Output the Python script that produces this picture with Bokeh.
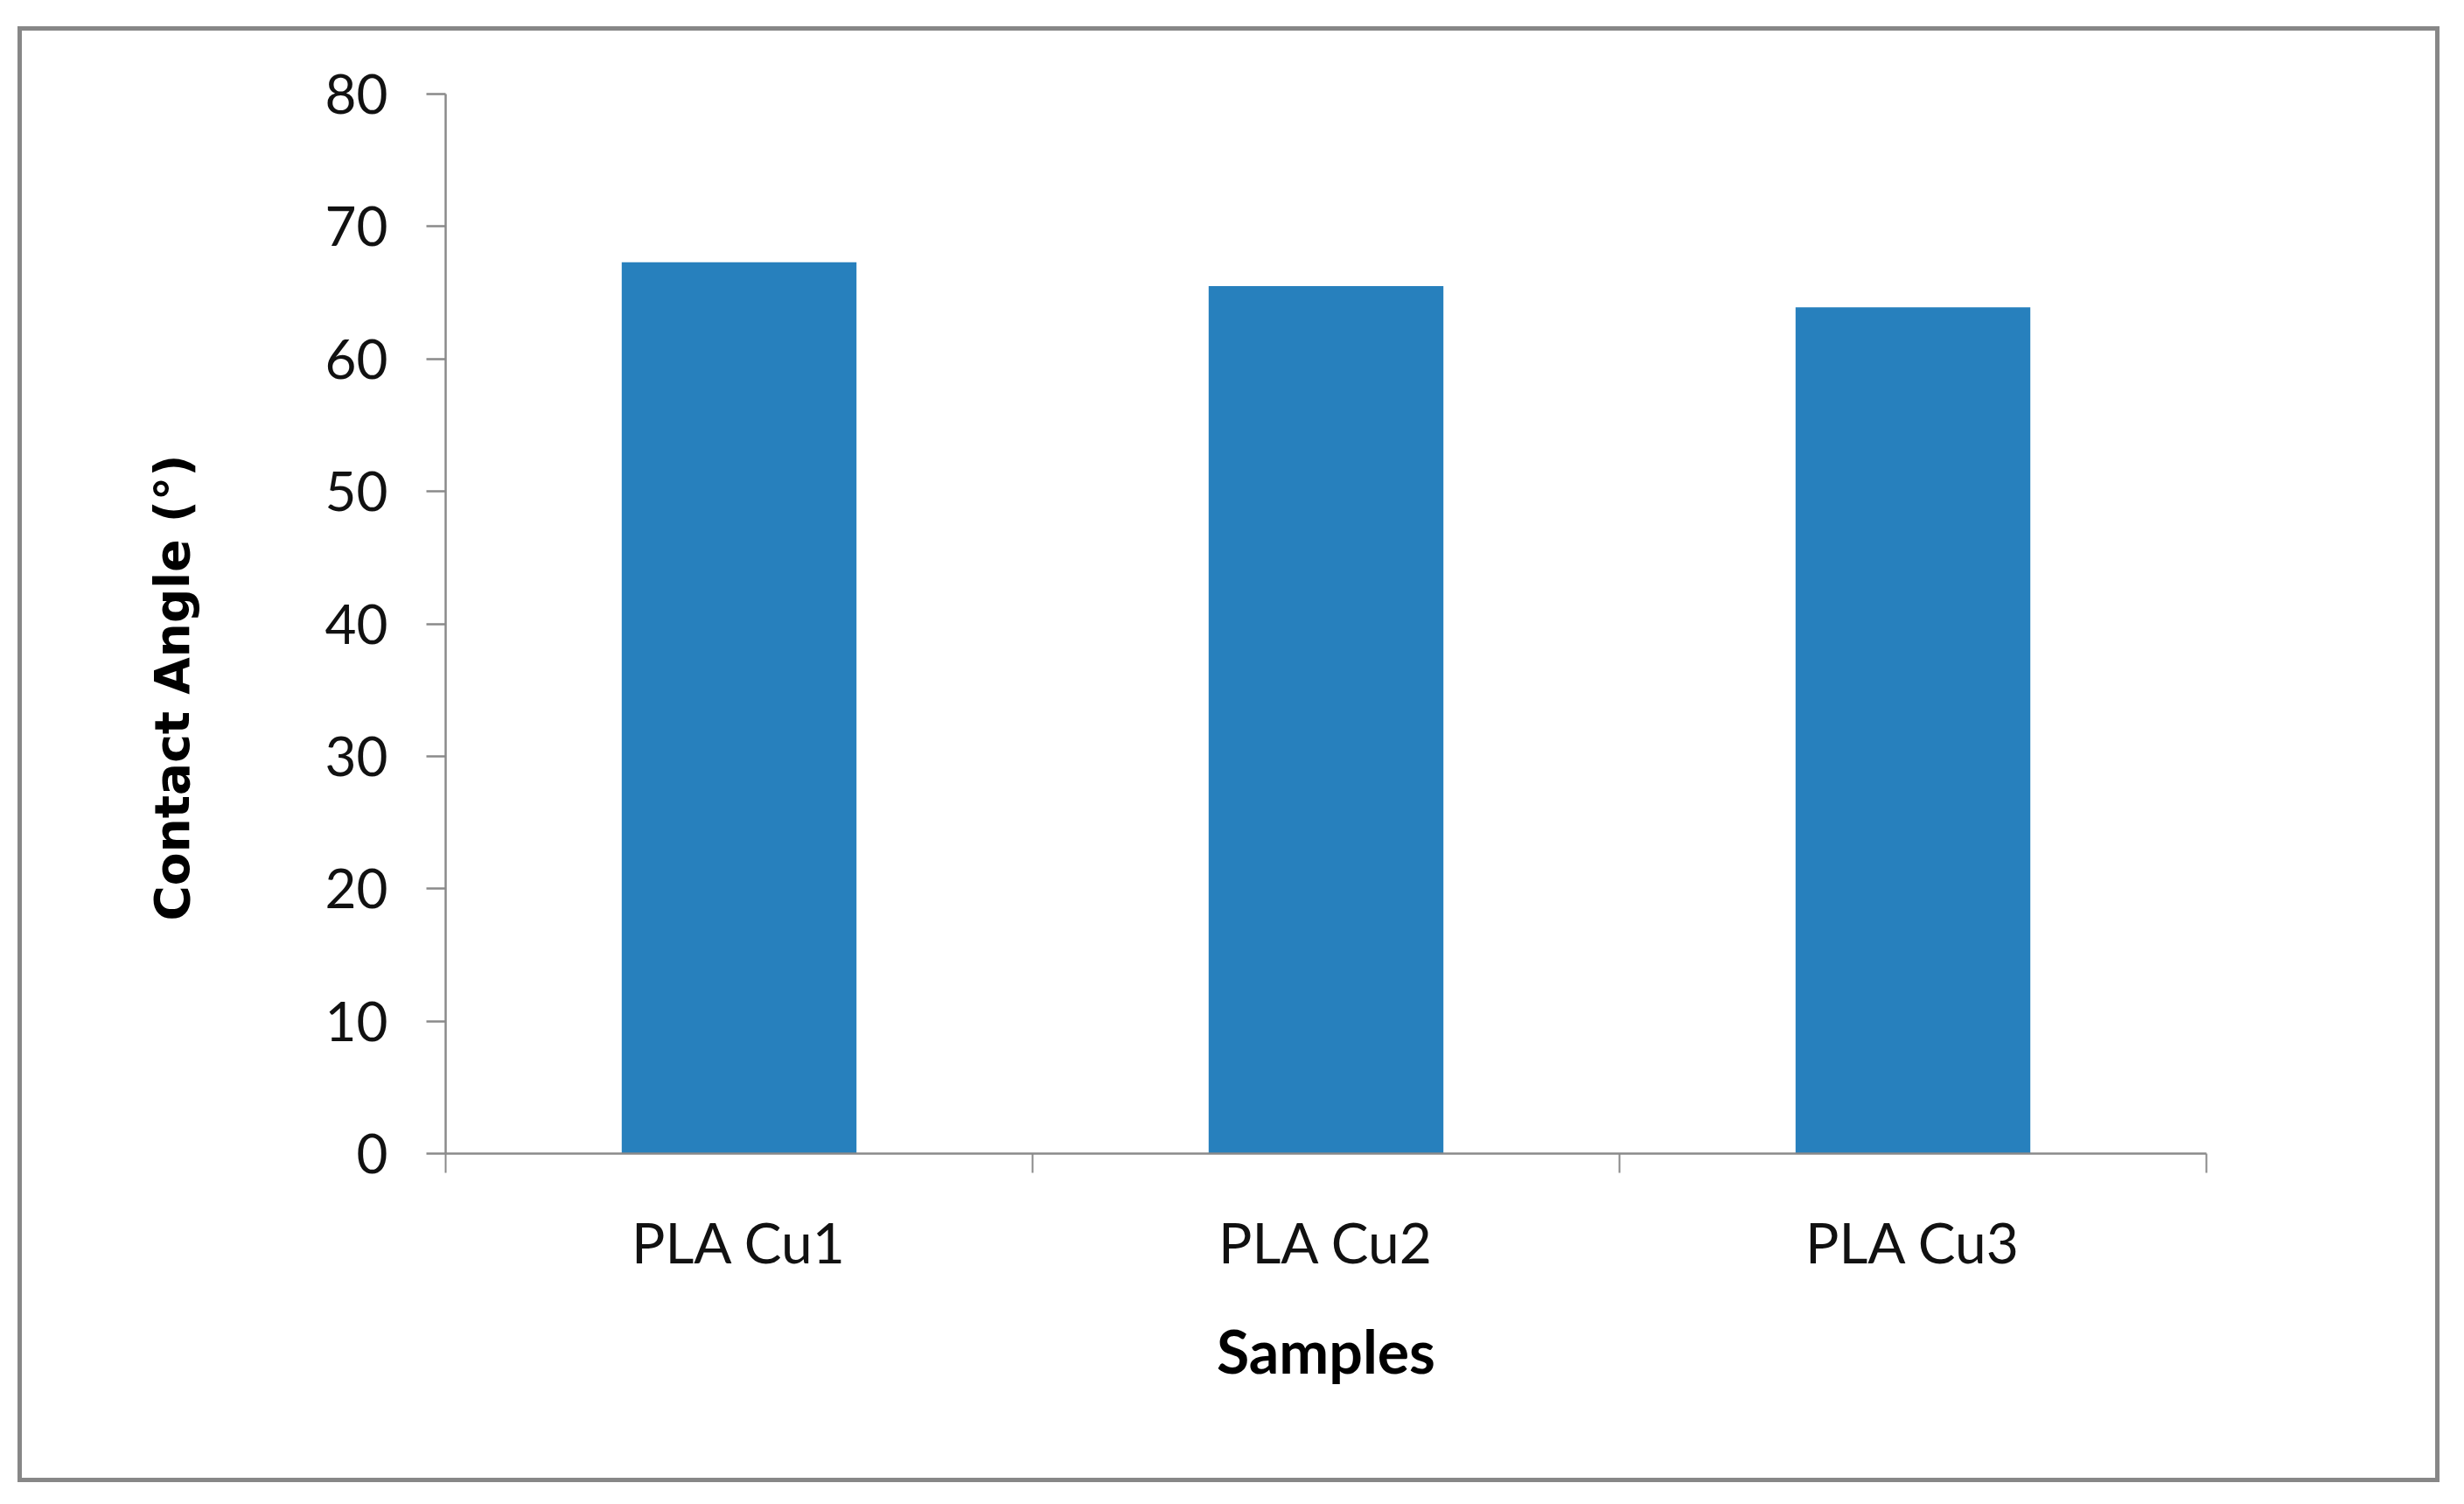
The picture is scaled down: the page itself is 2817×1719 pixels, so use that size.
from bokeh.plotting import figure
from bokeh.models import FixedTicker, Range1d, Title
from bokeh.embed import file_html
from bokeh.resources import INLINE

samples = ["PLA Cu1", "PLA Cu2", "PLA Cu3"]
contact_angle = [67.3, 65.5, 63.9]
y_ticks = [0, 10, 20, 30, 40, 50, 60, 70, 80]

x_pos = [i + 0.5 for i in range(len(samples))]

p = figure(width=2769, height=1664, output_backend="svg", toolbar_location=None,
           x_range=Range1d(0, len(samples)), y_range=Range1d(0, 80))
p.styles = {"border": "5px solid #878787", "margin-left": "20px", "margin-top": "30px"}
p.min_border_left = 484
p.min_border_right = 272
p.min_border_top = 72
p.min_border_bottom = 381
p.outline_line_color = None
p.xgrid.grid_line_color = None
p.ygrid.grid_line_color = None
p.background_fill_color = "white"
p.border_fill_color = "white"

p.vbar(x=x_pos, top=contact_angle, width=0.4, color="#2780bd", line_color=None)

# y axis
ya = p.yaxis[0]
ya.ticker = FixedTicker(ticks=y_ticks)
ya.axis_line_color = "#8a8a8a"
ya.axis_line_width = 2.5
ya.major_tick_line_color = "#8a8a8a"
ya.major_tick_line_width = 2.5
ya.major_tick_out = 22
ya.major_tick_in = 0
ya.minor_tick_line_color = None
ya.major_label_text_font = "Lato"
ya.major_label_text_font_size = "62px"
ya.major_label_text_color = "#111111"
ya.major_label_standoff = 44

# y axis title, a little below the plot centre as in the original
ytitle = Title(text="Contact  Angle (°)", align="left", offset=266, standoff=276,
               vertical_align="top",
               text_font="DejaVu Sans", text_font_style="bold",
               text_font_size="55px", text_color="#000000")
p.add_layout(ytitle, "left")

# x axis
xa = p.xaxis[0]
xa.ticker = FixedTicker(ticks=x_pos, minor_ticks=list(range(len(samples) + 1)))
xa.major_label_overrides = {x: s for x, s in zip(x_pos, samples)}
xa.axis_line_color = "#8a8a8a"
xa.axis_line_width = 2.5
xa.major_tick_line_color = None
xa.major_tick_out = 22
xa.major_tick_in = 0
xa.minor_tick_line_color = "#8a8a8a"
xa.minor_tick_line_width = 2
xa.minor_tick_out = 22
xa.minor_tick_in = 0
xa.major_label_text_font = "Lato"
xa.major_label_text_font_size = "64px"
xa.major_label_text_color = "#111111"
xa.major_label_standoff = 40
xa.axis_label = "Samples"
xa.axis_label_text_font = "Lato"
xa.axis_label_text_font_style = "bold"
xa.axis_label_text_font_size = "68px"
xa.axis_label_text_color = "#000000"
xa.axis_label_standoff = 42

open("out.html", "w").write(file_html(p, INLINE))
